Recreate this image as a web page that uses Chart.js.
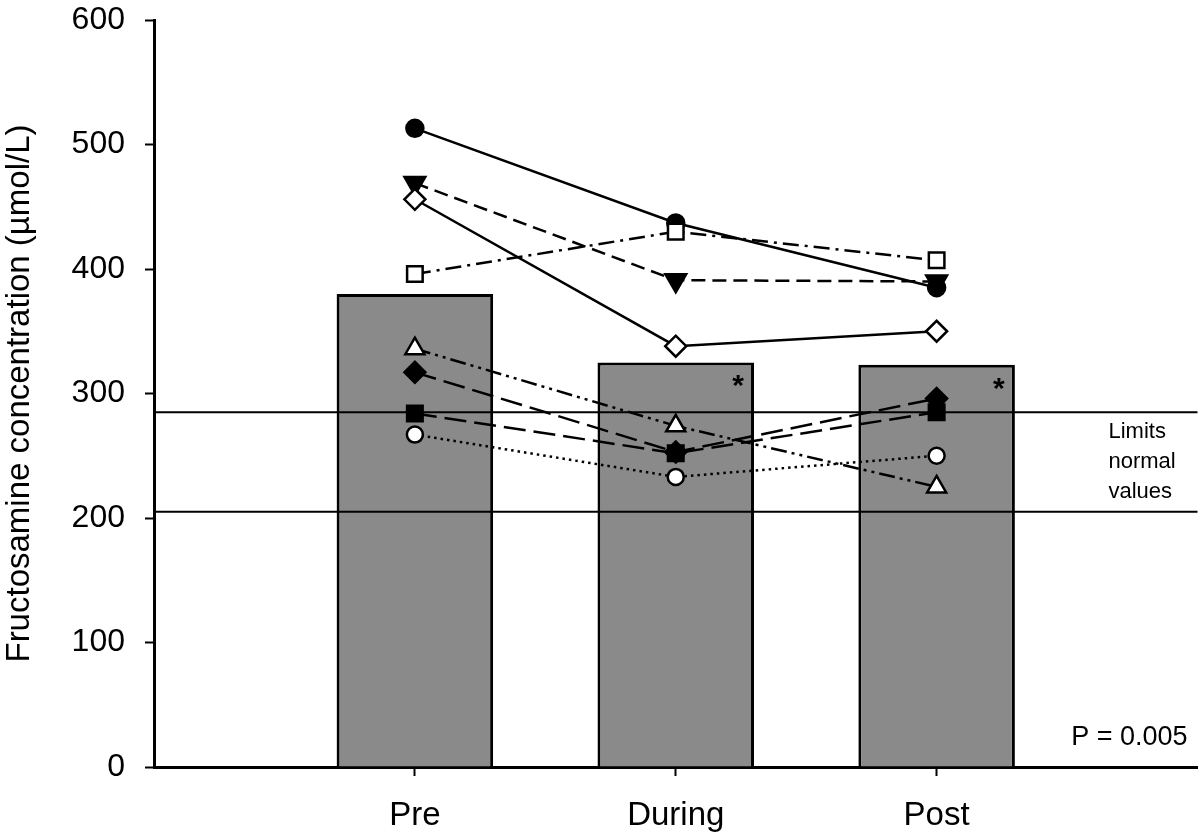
<!DOCTYPE html>
<html>
<head>
<meta charset="utf-8">
<script src="https://cdn.jsdelivr.net/npm/chart.js@4.4.0/dist/chart.umd.min.js"></script>
<style>
  html, body { margin: 0; padding: 0; background: #fff; overflow: hidden; width: 1200px; height: 837px; }
  canvas { display: block; }
</style>
</head>
<body>
<!-- a little wider than the window: the layout keeps ~15px spare on the right -->
<canvas id="chart" width="1212" height="837"></canvas>
<script>
// phases and group means (bars)
const phases = ['Pre', 'During', 'Post'];
const meanValues = [380, 325, 323];
const significant = [false, true, true];

// normal range of fructosamine
const limitLow = 205;
const limitHigh = 285;

// individual animals
const subjFilledCircle = [513, 437, 385];
const subjFilledTriangleDown = [469, 391, 390];
const subjOpenDiamond = [456, 338, 350];
const subjOpenSquare = [396, 430, 407];
const subjOpenTriangle = [336, 274, 225];
const subjFilledDiamond = [317, 253, 296];
const subjFilledSquare = [284, 252, 285];
const subjOpenCircle = [267, 233, 250];

const pValueText = 'P = 0.005';
const limitsText = ['Limits', 'normal', 'values'];

// empty slot on each side so the axis runs past Pre and Post
const labels = ['', ...phases, ''];
const pad = arr => [null, ...arr, null];
const flat = v => labels.map(() => v);

const FONT = '"Liberation Sans", Arial, Helvetica, sans-serif';

function subject(data, style, filled, r, dash, rot) {
  return {
    type: 'line',
    data: pad(data),
    borderColor: '#000',
    borderWidth: 2.5,
    borderDash: dash,
    borderCapStyle: 'butt',
    pointStyle: style,
    pointRadius: r,
    pointRotation: rot || 0,
    pointBorderWidth: 2.5,
    pointBorderColor: '#000',
    pointBackgroundColor: filled ? '#000' : '#fff',
    tension: 0,
    spanGaps: false,
    order: 1
  };
}

const annotations = {
  id: 'annotations',
  afterDatasetsDraw(chart) {
    const ctx = chart.ctx;
    const area = chart.chartArea;
    const y = chart.scales.y;
    const bars = chart.getDatasetMeta(0).data;
    ctx.save();
    ctx.fillStyle = '#000';

    ctx.font = 'bold 30px ' + FONT;
    ctx.textAlign = 'center';
    ctx.textBaseline = 'alphabetic';
    significant.forEach((s, i) => {
      if (!s) return;
      const b = bars[i + 1];
      ctx.fillText('*', b.x + b.width / 2 - 16, b.y + 16 + 17);
    });

    ctx.font = '22px ' + FONT;
    ctx.textAlign = 'left';
    ctx.textBaseline = 'middle';
    const mid = (y.getPixelForValue(limitHigh) + y.getPixelForValue(limitLow)) / 2;
    limitsText.forEach((t, i) => ctx.fillText(t, area.right - 89, mid + (i - 1) * 30));

    ctx.font = '27px ' + FONT;
    ctx.textAlign = 'right';
    ctx.fillText(pValueText, area.right - 10, area.bottom - 29);
    ctx.restore();
  }
};

new Chart(document.getElementById('chart'), {
  type: 'bar',
  data: {
    labels: labels,
    datasets: [
      {
        type: 'bar',
        data: pad(meanValues),
        backgroundColor: '#8a8a8a',
        borderColor: '#000',
        borderWidth: 3,
        borderSkipped: 'bottom',
        barPercentage: 0.6,
        categoryPercentage: 1,
        order: 10
      },
      { type: 'line', data: flat(limitHigh), borderColor: '#000', borderWidth: 2, pointRadius: 0, order: 5 },
      { type: 'line', data: flat(limitLow), borderColor: '#000', borderWidth: 2, pointRadius: 0, order: 5 },
      subject(subjOpenCircle, 'circle', false, 8, [2.5, 4]),
      subject(subjFilledSquare, 'rect', true, 11, [22, 8]),
      subject(subjFilledDiamond, 'rectRot', true, 10.5, [22, 8]),
      subject(subjOpenTriangle, 'triangle', false, 11, [16, 5, 3, 5, 3, 5]),
      subject(subjOpenSquare, 'rect', false, 11, [16, 6, 3, 6]),
      subject(subjOpenDiamond, 'rectRot', false, 10.5, []),
      subject(subjFilledTriangleDown, 'triangle', true, 12, [14, 7], 180),
      subject(subjFilledCircle, 'circle', true, 8.5, [])
    ]
  },
  options: {
    responsive: false,
    animation: false,
    devicePixelRatio: 1,
    layout: { padding: { top: 20, right: 3, left: 0, bottom: 0 } },
    plugins: { legend: { display: false }, tooltip: { enabled: false } },
    scales: {
      x: {
        type: 'category',
        offset: false,
        border: { display: true, color: '#000', width: 3 },
        grid: {
          display: true,
          offset: false,
          drawOnChartArea: false,
          drawTicks: true,
          tickLength: 9,
          tickWidth: 2,
          tickColor: c => (c.index === 0 || c.index === labels.length - 1) ? 'rgba(0,0,0,0)' : '#000'
        },
        // small padding, line height pushes the labels down
        ticks: { color: '#000', font: { family: FONT, size: 33, lineHeight: 2.24 }, padding: 3, maxRotation: 0, autoSkip: false },
        afterFit: s => { s.height = 70; s.paddingLeft = 0; s.paddingRight = 0; }
      },
      y: {
        min: 0,
        max: 600,
        border: { display: true, color: '#000', width: 3 },
        grid: { display: true, drawOnChartArea: false, drawTicks: true, tickLength: 9, tickWidth: 2, tickColor: '#000' },
        ticks: { stepSize: 100, color: '#000', font: { family: FONT, size: 32 }, padding: 20 },
        title: {
          display: true,
          text: 'Fructosamine concentration (\u00b5mol/L)',
          color: '#000',
          font: { family: FONT, size: 33 },
          padding: 0
        },
        afterFit: s => { s.width = 154; s.paddingTop = 0; s.paddingBottom = 0; }
      }
    }
  },
  plugins: [annotations]
});
</script>
</body>
</html>
